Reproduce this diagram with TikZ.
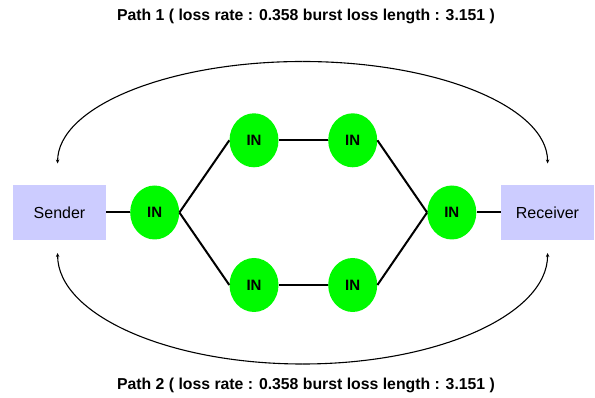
\documentclass[tikz,border=0pt]{standalone}
\usepackage{fontspec}
\setmainfont{Liberation Sans}
\usetikzlibrary{shapes.geometric,arrows.meta}
\definecolor{boxfill}{RGB}{204,204,255}
\definecolor{ingreen}{RGB}{0,250,0}
\begin{document}
\begin{tikzpicture}[x=1pt,y=1pt,
  endbox/.style={rectangle,fill=boxfill,minimum width=93pt,minimum height=55pt,inner sep=0pt,font=\fontsize{16}{18}\selectfont},
  innode/.style={ellipse,fill=ingreen,minimum width=49pt,minimum height=54pt,inner sep=0pt,font=\fontsize{15}{17}\selectfont\bfseries},
  link/.style={line width=2pt},
  path arc/.style={line width=1.1pt,-{Stealth[length=4pt,width=3.5pt]}},
  title/.style={font=\fontsize{15.8}{18}\selectfont\bfseries}]
\useasboundingbox (0,0) rectangle (595,-398);
\node[endbox] (snd) at (59.5,-212.5) {Sender};
\node[endbox] (rcv) at (547.5,-212.5) {Receiver};
\node[innode] (a) at (154.7,-212.5) {IN};
\node[innode] (t1) at (254,-140.3) {IN};
\node[innode] (t2) at (352.7,-140.3) {IN};
\node[innode] (b1) at (254,-285) {IN};
\node[innode] (b2) at (352.7,-285) {IN};
\node[innode] (z) at (451.8,-212.5) {IN};
\draw[link] (snd.east) -- (a.west);
\draw[link] (a.east) -- (t1.west);
\draw[link] (a.east) -- (b1.west);
\draw[link] (t1) -- (t2);
\draw[link] (b1) -- (b2);
\draw[link] (t2.east) -- (z.west);
\draw[link] (b2.east) -- (z.west);
\draw[link] (z.east) -- (rcv.west);
\coordinate (topc) at (302.6,-61.5);
\coordinate (botc) at (302.6,-364);
\draw[path arc] (topc) arc[start angle=90,end angle=180,x radius=245,y radius=102];
\draw[path arc] (topc) arc[start angle=90,end angle=0,x radius=245,y radius=102];
\draw[path arc] (botc) arc[start angle=270,end angle=180,x radius=245,y radius=111];
\draw[path arc] (botc) arc[start angle=270,end angle=360,x radius=245,y radius=111];
\node[title] (p1) at (306,-16) {Path 1 ( loss rate : 0.358 burst loss length : 3.151 )};
\node[title] (p2) at (306,-385) {Path 2 ( loss rate : 0.358 burst loss length : 3.151 )};
\end{tikzpicture}
\end{document}
